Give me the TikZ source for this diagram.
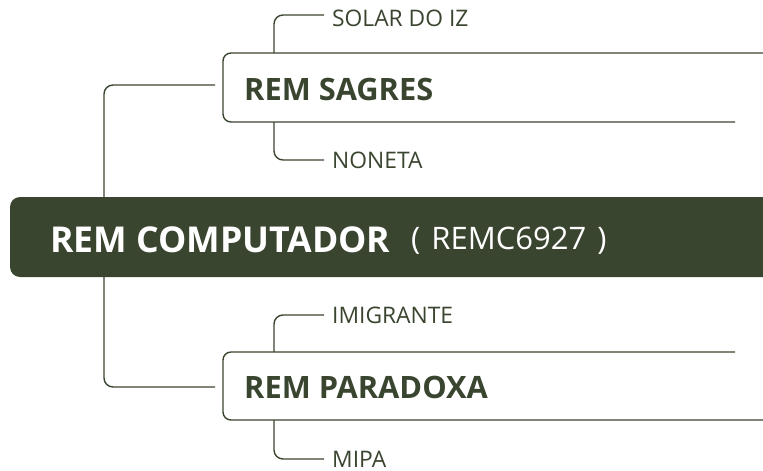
\documentclass[tikz,border=0pt]{standalone}
\usepackage{fontspec}
\setmainfont{Open Sans}
\definecolor{olive}{HTML}{3A4530}
\begin{document}
\begin{tikzpicture}[x=1pt,y=-1pt,
  conn/.style={draw=olive,line width=1.4pt,rounded corners=9pt},
  boxline/.style={draw=olive,line width=1.4pt,rounded corners=8pt},
  leaf/.style={anchor=base west,inner sep=0pt,text=olive,font=\fontsize{22.8}{23}\selectfont},
  topic/.style={anchor=base west,inner sep=0pt,text=olive,font=\fontsize{30.8}{31}\selectfont\bfseries},
  root/.style={anchor=base west,inner sep=0pt,text=white,font=\fontsize{35.6}{36}\selectfont\bfseries},
  rootcode/.style={anchor=base west,inner sep=0pt,text=white,font=\fontsize{31}{31}\selectfont}]
\useasboundingbox (0,0) rectangle (763,471);
\clip (0,0) rectangle (763,471);
% trunk connectors (behind the root box)
\coordinate (sagresin) at (215,85);
\coordinate (paradin) at (215,387);
\coordinate (roottop) at (104,197);
\coordinate (rootbot) at (104,277);
\draw[conn] (roottop) |- (sagresin);
\draw[conn] (rootbot) |- (paradin);
% root box
\fill[olive,rounded corners=10pt] (10,197) rectangle (800,277);
\node[root] (root) at (50,252) {REM COMPUTADOR};
\node[rootcode] (code) at (411,249) {(\hspace{3pt} REMC6927 \hspace{3pt})};
% REM SAGRES box
\draw[boxline] (735,122) -- (223,122) -- (223,53) -- (763,53);
\node[topic] (sagres) at (244,100) {REM SAGRES};
\coordinate (sagrestop) at (274,53);
\coordinate (sagresbot) at (274,122);
\node[leaf] (solar) at (332,26) {SOLAR DO IZ};
\node[leaf] (noneta) at (332,168) {NONETA};
\coordinate (solarin) at (324,15);
\coordinate (nonetain) at (324,160);
\draw[conn] (sagrestop) |- (solarin);
\draw[conn] (sagresbot) |- (nonetain);
% REM PARADOXA box
\draw[boxline] (735,352) -- (223,352) -- (223,420) -- (763,420);
\node[topic] (parad) at (244,398) {REM PARADOXA};
\coordinate (paradtop) at (274,352);
\coordinate (paradbot) at (274,420);
\node[leaf] (imig) at (332,323) {IMIGRANTE};
\node[leaf] (mipa) at (332,467) {MIPA};
\coordinate (imigin) at (324,315);
\coordinate (mipain) at (324,459);
\draw[conn] (paradtop) |- (imigin);
\draw[conn] (paradbot) |- (mipain);
\end{tikzpicture}
\end{document}
